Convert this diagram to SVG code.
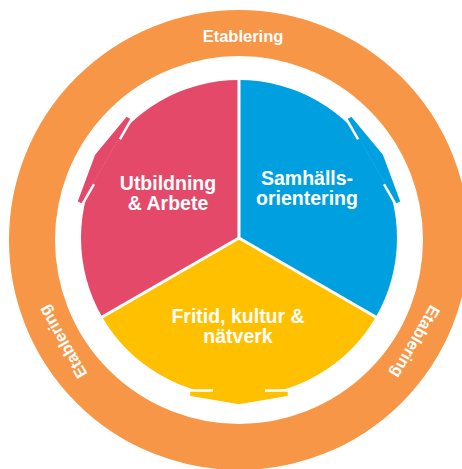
<svg xmlns="http://www.w3.org/2000/svg" width="462" height="469" viewBox="0 0 462 469">
<defs>
<style>
.lbl{font-family:"Liberation Sans",Arial,sans-serif;font-weight:bold;fill:#fff;text-anchor:middle}
.big{font-size:19.5px}
.ring{font-size:16.5px}
.sep{stroke:#fff;stroke-width:3;fill:none}
.chev{stroke:#fff;stroke-width:2.5;stroke-linejoin:miter}
</style>
<g id="arrowShape">
<polygon class="chev" points="-50,152.5 50,152.5 50,159 0,167.5 -50,159"/>
<rect x="-26" y="138" width="52" height="16"/>
</g>
</defs>
<rect width="462" height="469" fill="#fff"/>
<g id="ring">
<circle cx="239" cy="240" r="207" fill="none" stroke="#F79646" stroke-width="46"/>
<text class="lbl ring" x="243" y="42">Etablering</text>
<text class="lbl ring" x="239" y="42" transform="rotate(-120 239 240)">Etablering</text>
<text class="lbl ring" x="239" y="42" transform="rotate(120 239 240)">Etablering</text>
</g>
<g id="node-utbildning">
<path d="M239,238 L239,80 A158,158 0 0 0 102.17,317 Z" fill="#E5496A"/>
<text class="lbl big" x="168" y="190">Utbildning</text>
<text class="lbl big" x="168" y="210">&amp; Arbete</text>
</g>
<g id="node-samhall">
<path d="M239,238 L239,80 A158,158 0 0 1 375.83,317 Z" fill="#009FE0"/>
<text class="lbl big" x="307" y="185">Samhälls-</text>
<text class="lbl big" x="307" y="205">orientering</text>
</g>
<g id="node-fritid">
<path d="M239,238 L102.17,317 A158,158 0 0 0 375.83,317 Z" fill="#FFC000"/>
<text class="lbl big" x="238" y="323">Fritid, kultur &amp;</text>
<text class="lbl big" x="238" y="343">nätverk</text>
</g>
<g id="connectors">
<use href="#arrowShape" fill="#FFC000" transform="translate(239 238)"/>
<use href="#arrowShape" fill="#E5496A" transform="translate(239 238) rotate(120)"/>
<use href="#arrowShape" fill="#009FE0" transform="translate(239 238) rotate(-120)"/>
</g>
<g id="separators">
<line class="sep" x1="239" y1="238" x2="239" y2="76"/>
<line class="sep" x1="239" y1="238" x2="98.7" y2="319"/>
<line class="sep" x1="239" y1="238" x2="379.3" y2="319"/>
</g>
</svg>
